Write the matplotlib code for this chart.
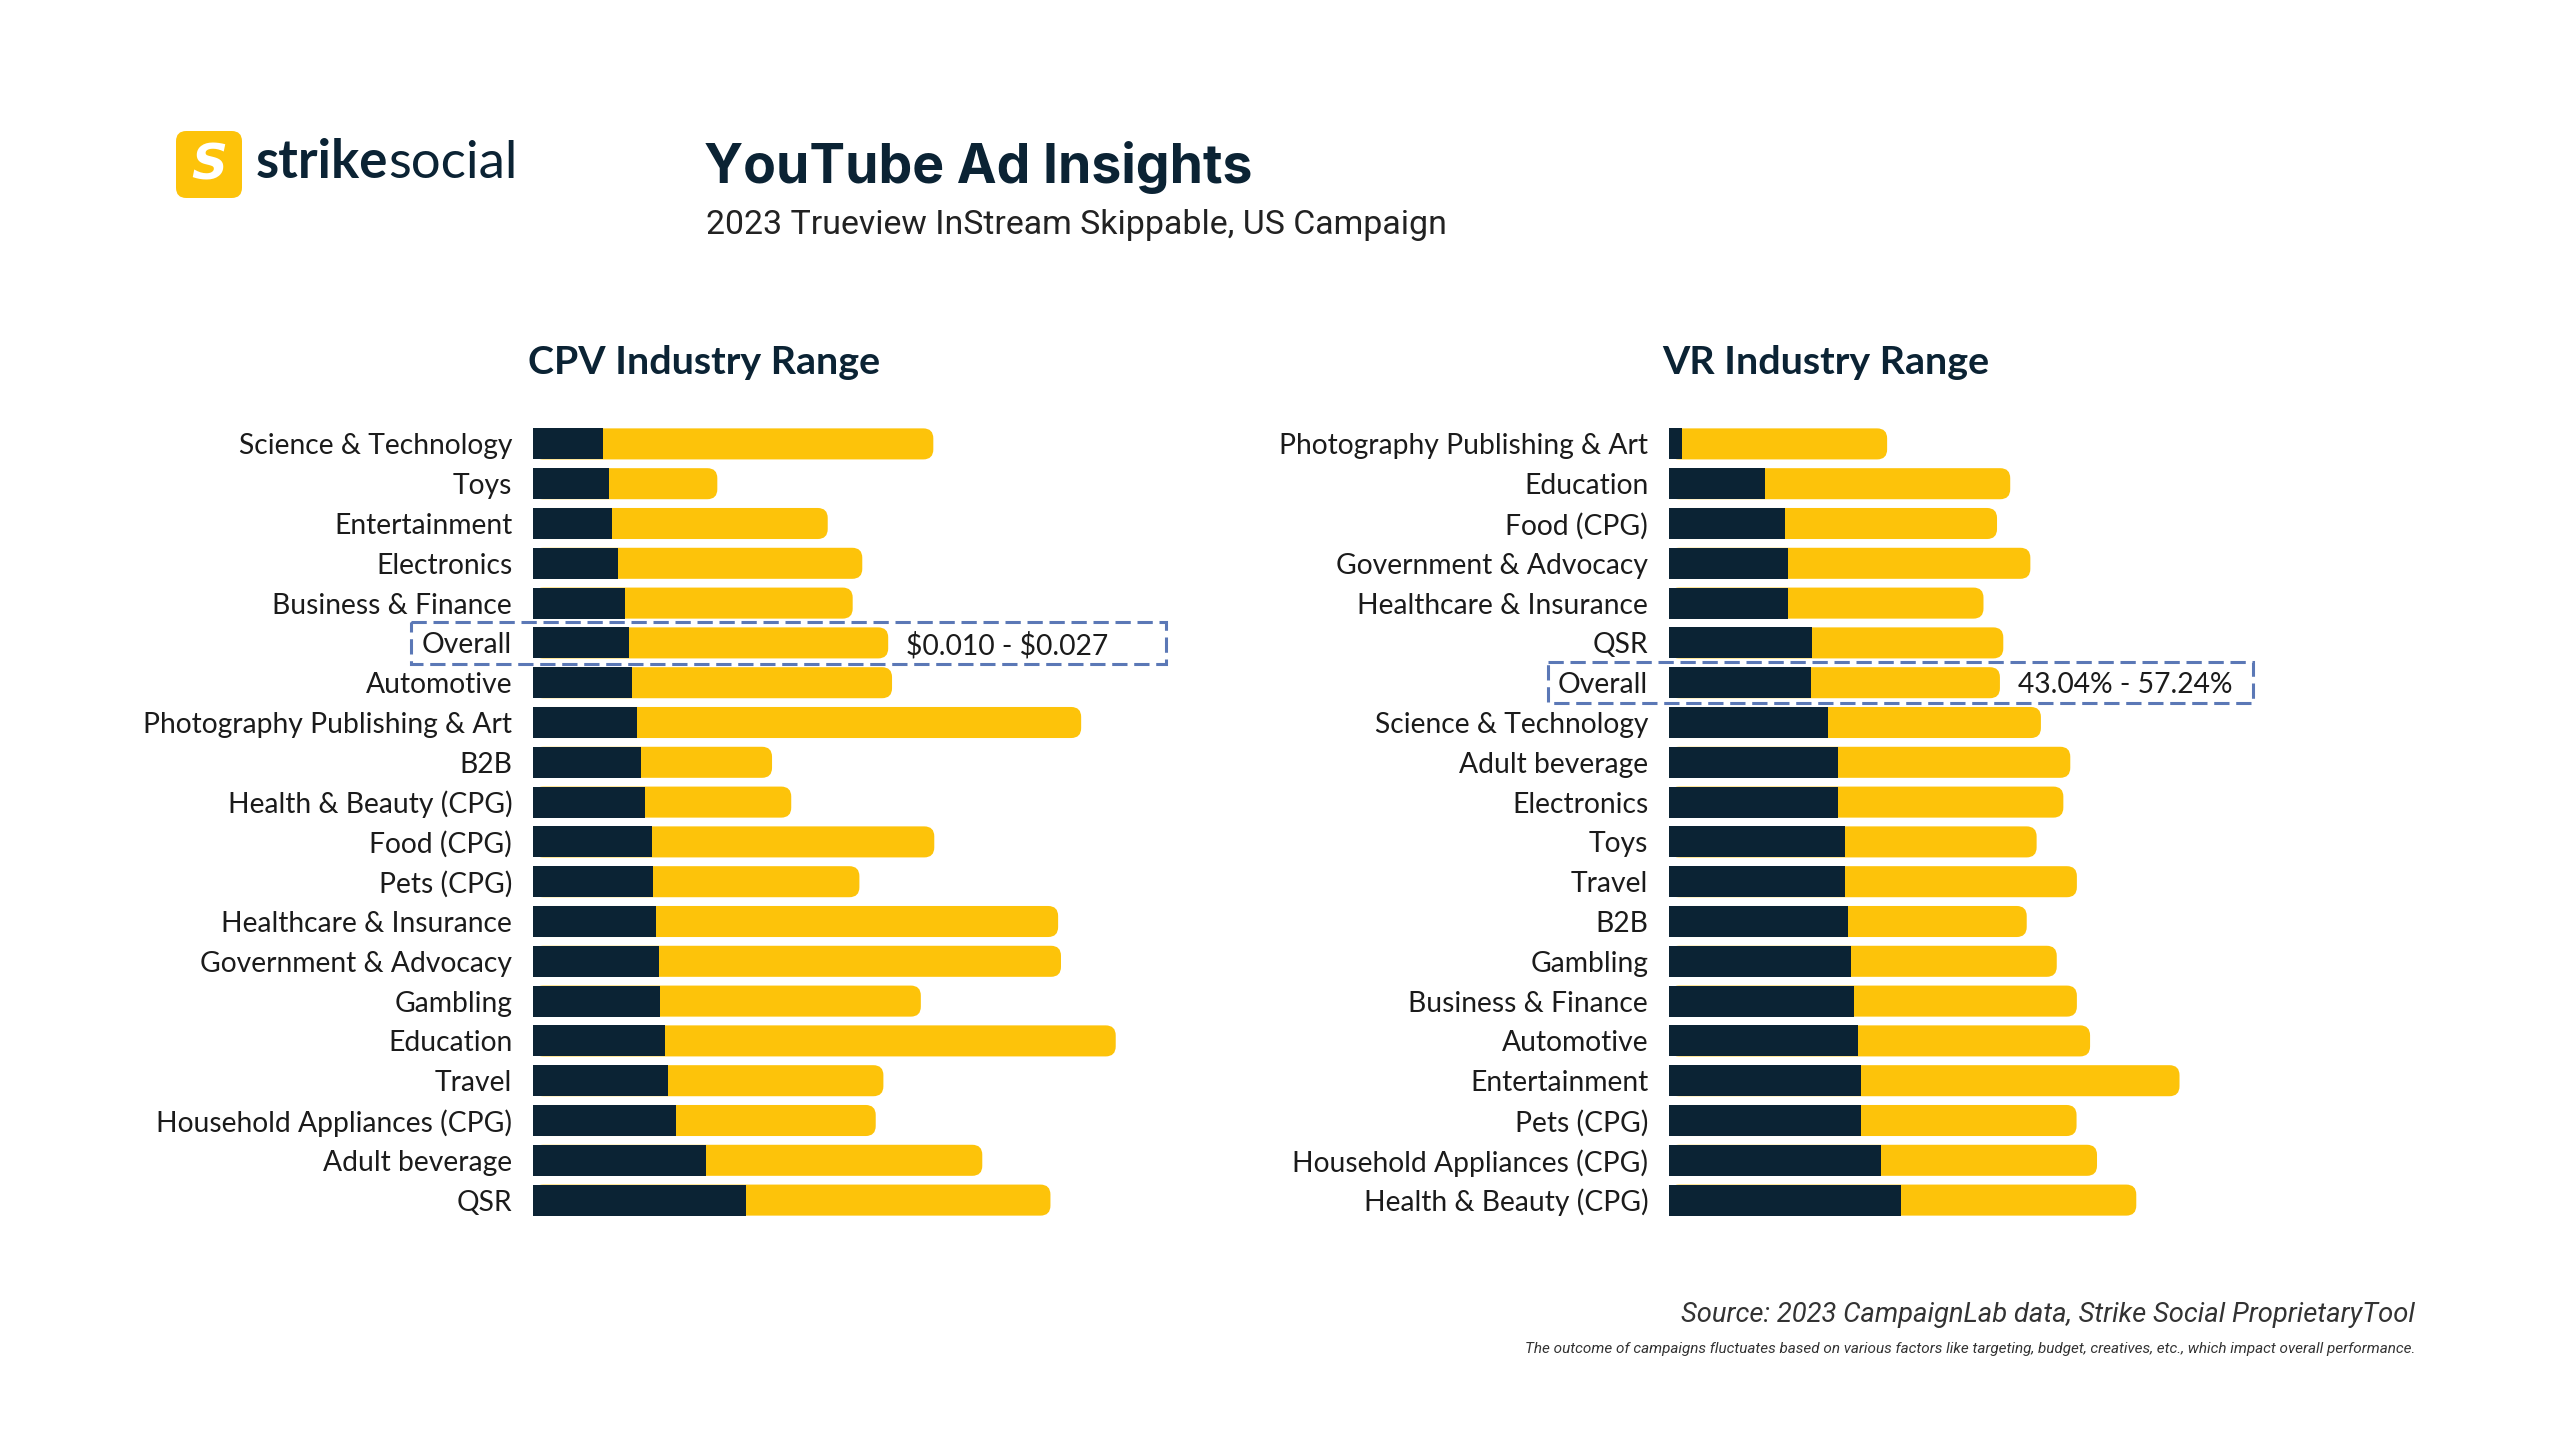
import matplotlib
matplotlib.use("Agg")
import matplotlib.pyplot as plt
from matplotlib.patches import FancyBboxPatch, Rectangle

# CPV industry range (min, max in $)
cpv_industries = ["Science & Technology", "Toys", "Entertainment", "Electronics",
                  "Business & Finance", "Overall", "Automotive",
                  "Photography Publishing & Art", "B2B", "Health & Beauty (CPG)",
                  "Food (CPG)", "Pets (CPG)", "Healthcare & Insurance",
                  "Government & Advocacy", "Gambling", "Education", "Travel",
                  "Household Appliances (CPG)", "Adult beverage", "QSR"]
cpv_min = [0.0073, 0.0079, 0.0082, 0.0089, 0.0096, 0.0100, 0.0103, 0.0108, 0.0113, 0.0117,
           0.0124, 0.0125, 0.0128, 0.0131, 0.0132, 0.0138, 0.0141, 0.0149, 0.0180, 0.0222]
cpv_max = [0.0344, 0.0113, 0.0225, 0.0254, 0.0237, 0.0270, 0.0271, 0.0463, 0.0136, 0.0152,
           0.0294, 0.0215, 0.0419, 0.0419, 0.0272, 0.0469, 0.0224, 0.0208, 0.0288, 0.0317]
cpv_overall_label = r"\$0.010 - \$0.027"

# VR industry range (min, max in %)
vr_industries = ["Photography Publishing & Art", "Education", "Food (CPG)",
                 "Government & Advocacy", "Healthcare & Insurance", "QSR", "Overall",
                 "Science & Technology", "Adult beverage", "Electronics", "Toys", "Travel",
                 "B2B", "Gambling", "Business & Finance", "Automotive", "Entertainment",
                 "Pets (CPG)", "Household Appliances (CPG)", "Health & Beauty (CPG)"]
vr_min = [4.0, 29.1, 35.2, 36.2, 36.2, 43.3, 43.04, 48.1, 51.2, 51.2,
          53.4, 53.4, 54.1, 55.3, 56.2, 57.2, 58.3, 58.3, 64.3, 70.3]
vr_max = [62.1, 74.3, 64.2, 73.3, 59.1, 58.0, 57.24, 64.6, 70.4, 68.3,
          58.0, 70.2, 54.3, 62.2, 67.4, 70.4, 96.4, 65.2, 65.4, 71.3]
vr_overall_label = "43.04% - 57.24%"

NAVY = "#0b2334"
YELLOW = "#fdc30a"
DASH = "#5b78b6"
TEXT = "#1b1b1b"

fig = plt.figure(figsize=(25.6, 14.4), dpi=100)
fig.patch.set_facecolor("white")

W, H = 2560, 1440


def draw_panel(rect, industries, mins, maxs, xmax, title, title_x, overall_label, box_x):
    ax = fig.add_axes(rect)
    n = len(industries)
    ys = list(range(n))
    totals = [a + b for a, b in zip(mins, maxs)]
    bar_h = 0.78

    # pixel sizes so the rounded end caps come out circular
    px_x = xmax / (rect[2] * W)
    px_y = n / (rect[3] * H)
    r = 10 * px_x
    aspect = px_y / px_x
    for y, tot in zip(ys, totals):
        ax.add_patch(FancyBboxPatch((0, y - bar_h / 2), tot, bar_h,
                                    boxstyle=f"round,pad=0,rounding_size={r}",
                                    mutation_aspect=aspect, fc=YELLOW, ec="none"))
    ax.barh(ys, mins, height=bar_h, color=NAVY, zorder=3)

    ax.set_xlim(0, xmax)
    ax.set_ylim(n - 0.5, -0.5)
    ax.set_yticks(ys)
    ax.set_yticklabels(industries, fontsize=20.3, color=TEXT, family="Lato")
    ax.tick_params(axis="y", length=0, pad=15)
    ax.set_xticks([])
    for s in ax.spines.values():
        s.set_visible(False)

    k = industries.index("Overall")
    ax.text(totals[k] + 18 * px_x, k, overall_label, fontsize=20.3, color=TEXT,
            family="Lato", va="center_baseline", ha="left")
    ax.add_patch(Rectangle((box_x[0], k - 0.52), box_x[1] - box_x[0], 1.04,
                           transform=ax.get_yaxis_transform(), fill=False,
                           ec=DASH, lw=2.2, ls=(0, (5, 2.2)), clip_on=False, zorder=5))

    fig.text(title_x / W, 1 - 363 / H, title, fontsize=28.4, fontweight="bold",
             family="Lato", color=NAVY, ha="center", va="center")
    return ax


bottom = 1 - 1220 / H
height = 796 / H
draw_panel([533 / W, bottom, 667 / W, height], cpv_industries, cpv_min, cpv_max,
           667 / 9600, "CPV Industry Range", 704, cpv_overall_label, (-0.183, 0.949))
draw_panel([1669 / W, bottom, 631 / W, height], vr_industries, vr_min, vr_max,
           631 / 3.3, "VR Industry Range", 1826, vr_overall_label, (-0.192, 0.925))

# logo
logo = FancyBboxPatch((176 / W, 1 - 198 / H), 66 / W, 67 / H,
                      boxstyle="round,pad=0,rounding_size=0.004",
                      transform=fig.transFigure, fc=YELLOW, ec="none",
                      mutation_aspect=W / H)
fig.patches.append(logo)
fig.text(209 / W, 1 - 165 / H, "S", fontsize=36, fontweight="bold", fontstyle="italic",
         color="white", ha="center", va="center", family="DejaVu Sans")
t1 = fig.text(256 / W, 1 - 163 / H, "strike", fontsize=38, fontweight="bold",
              color=NAVY, ha="left", va="center", family="Lato")
fig.canvas.draw()
bb = t1.get_window_extent()
fig.text(bb.x1 / W, 1 - 163 / H, "social", fontsize=38, fontweight="normal",
         color=NAVY, ha="left", va="center", family="Lato")

# titles
fig.text(704 / W, 1 - 168 / H, "YouTube Ad Insights", fontsize=38.5, fontweight="bold",
         color=NAVY, ha="left", va="center", family="Inter")
fig.text(706 / W, 1 - 225 / H, "2023 Trueview InStream Skippable, US Campaign",
         fontsize=24.4, color="#222222", ha="left", va="center", family="Roboto")

# footnotes
fig.text(2415 / W, 1 - 1315 / H, "Source: 2023 CampaignLab data, Strike Social ProprietaryTool",
         fontsize=19.7, fontstyle="italic", color="#333333", ha="right", va="center",
         family="Roboto")
fig.text(2415 / W, 1 - 1349 / H,
         "The outcome of campaigns fluctuates based on various factors like targeting, budget, "
         "creatives, etc., which impact overall performance.",
         fontsize=11, fontstyle="italic", color="#333333", ha="right", va="center",
         family="Roboto")

fig.savefig("out.png", dpi=100, facecolor="white")
